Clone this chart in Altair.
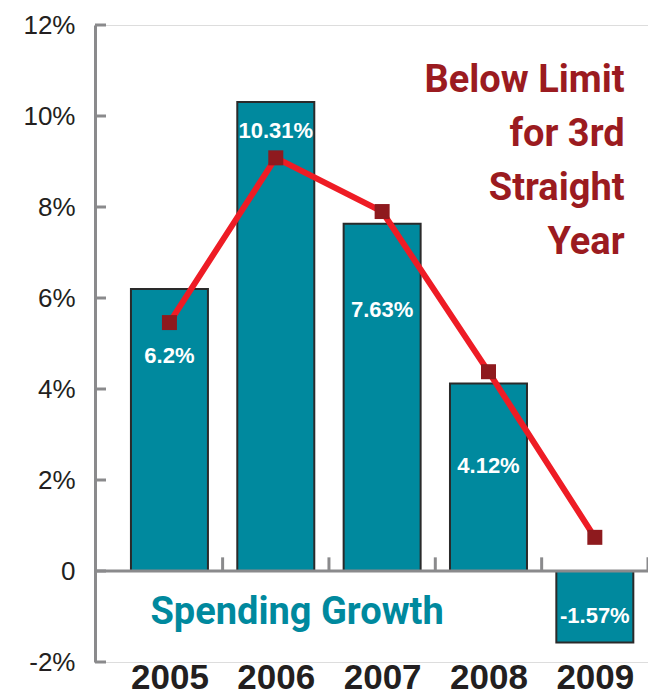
import altair as alt
import pandas as pd

years = [2005, 2006, 2007, 2008, 2009]
spending_growth = [6.2, 10.31, 7.63, 4.12, -1.57]
limit_growth = [5.46, 9.08, 7.90, 4.38, 0.74]
bar_labels = ["6.2%", "10.31%", "7.63%", "4.12%", "-1.57%"]
label_y = [4.72, 9.68, 5.74, 2.31, -0.98]
y_ticks = [-2, 0, 2, 4, 6, 8, 10, 12]
boundary_ticks = [2005.5, 2006.5, 2007.5, 2008.5, 2009.5]
note_lines = ["Below Limit", "for 3rd", "Straight", "Year"]
series_title = "Spending Growth"

TEAL = "#00899e"
DARK_RED = "#9b1b20"
RED = "#ee1c25"
MARKER = "#8e1a1e"
GRAY = "#8a8a8c"
TEXT = "#231f20"
NARROW = "Roboto, Liberation Sans, sans-serif"

W, H = 553, 637
half = 0.362

bars = pd.DataFrame({
    "year": years,
    "value": spending_growth,
    "x0": [y - half for y in years],
    "x1": [y + half for y in years],
    "label": bar_labels,
    "ly": label_y,
})
line_df = pd.DataFrame({"year": years, "value": limit_growth})
yt = pd.DataFrame({"tick": y_ticks})
bt = pd.DataFrame({"year": boundary_ticks})

xscale = alt.Scale(domain=[2004.3, 2009.5], nice=False, zero=False)
yscale = alt.Scale(domain=[-2, 12], nice=False, zero=False)

xaxis = alt.Axis(values=years, format="d", labelFontSize=35, labelFontWeight="bold",
                 labelColor=TEXT, labelFont="Liberation Sans", domain=False, ticks=False,
                 grid=False, labelPadding=26, labelBaseline="alphabetic",
                 labelFlush=False, labelOverlap=False, title=None)
yaxis = alt.Axis(values=y_ticks, labelExpr="datum.value == 0 ? '0' : datum.value + '%'",
                 labelFontSize=26, labelColor=TEXT, labelFont="Liberation Sans",
                 domain=True, domainColor=GRAY, domainWidth=3, ticks=False, grid=False,
                 labelPadding=20, labelFlush=False, labelOverlap=False, title=None)

bar_layer = alt.Chart(bars).mark_bar(color=TEAL, stroke="#2a2a2a", strokeWidth=2).encode(
    x=alt.X("x0:Q", scale=xscale, axis=xaxis),
    x2="x1:Q",
    y=alt.Y("value:Q", scale=yscale, axis=yaxis),
    y2=alt.datum(0),
)

zero_line = alt.Chart(yt).transform_filter("datum.tick == 0").mark_rule(
    color=GRAY, strokeWidth=3).encode(
    y=alt.Y("tick:Q", scale=yscale, axis=yaxis),
    x=alt.value(0), x2=alt.value(W),
)

y_tick_layer = alt.Chart(yt).mark_rule(color=GRAY, strokeWidth=3).encode(
    y=alt.Y("tick:Q", scale=yscale, axis=yaxis),
    x=alt.value(0), x2=alt.value(11),
)

b_tick_layer = alt.Chart(bt).mark_rule(color=GRAY, strokeWidth=3).encode(
    x=alt.X("year:Q", scale=xscale, axis=xaxis),
    y=alt.datum(0), y2=alt.datum(0.3),
)

line_layer = alt.Chart(line_df).mark_line(color=RED, strokeWidth=6).encode(
    x=alt.X("year:Q", scale=xscale, axis=xaxis),
    y=alt.Y("value:Q", scale=yscale, axis=yaxis),
)

point_layer = alt.Chart(line_df).mark_point(shape="square", filled=True, color=MARKER,
                                             size=225, opacity=1).encode(
    x=alt.X("year:Q", scale=xscale, axis=xaxis),
    y=alt.Y("value:Q", scale=yscale, axis=yaxis),
)

label_layer = alt.Chart(bars).mark_text(color="white", fontSize=22, fontWeight="bold",
                                        font="Liberation Sans", baseline="middle").encode(
    x=alt.X("year:Q", scale=xscale, axis=xaxis),
    y=alt.Y("ly:Q", scale=yscale, axis=yaxis),
    text="label:N",
)

note_layer = alt.Chart(pd.DataFrame({"x": [2009.28], "y": [10.53]})).mark_text(
    text=note_lines, align="right", baseline="alphabetic", lineHeight=54,
    fontSize=38, fontWeight="bold", font=NARROW, color=DARK_RED).encode(
    x=alt.X("x:Q", scale=xscale, axis=xaxis),
    y=alt.Y("y:Q", scale=yscale, axis=yaxis),
)

title_layer = alt.Chart(pd.DataFrame({"x": [2006.2], "y": [-1.17], "t": [series_title]})).mark_text(
    align="center", baseline="alphabetic", fontSize=38, fontWeight="bold",
    font=NARROW, color=TEAL).encode(
    x=alt.X("x:Q", scale=xscale, axis=xaxis),
    y=alt.Y("y:Q", scale=yscale, axis=yaxis),
    text="t:N",
)

chart = alt.layer(
    bar_layer, zero_line, y_tick_layer, b_tick_layer, line_layer, point_layer,
    label_layer, note_layer, title_layer,
).properties(
    width=W, height=H,
    autosize=alt.AutoSizeParams(type="none"),
    padding={"left": 87, "top": 17, "right": 0, "bottom": 34},
).configure_view(stroke=None).configure(background="white")

chart.save("out.html", embed_options={"renderer": "svg", "actions": False})
